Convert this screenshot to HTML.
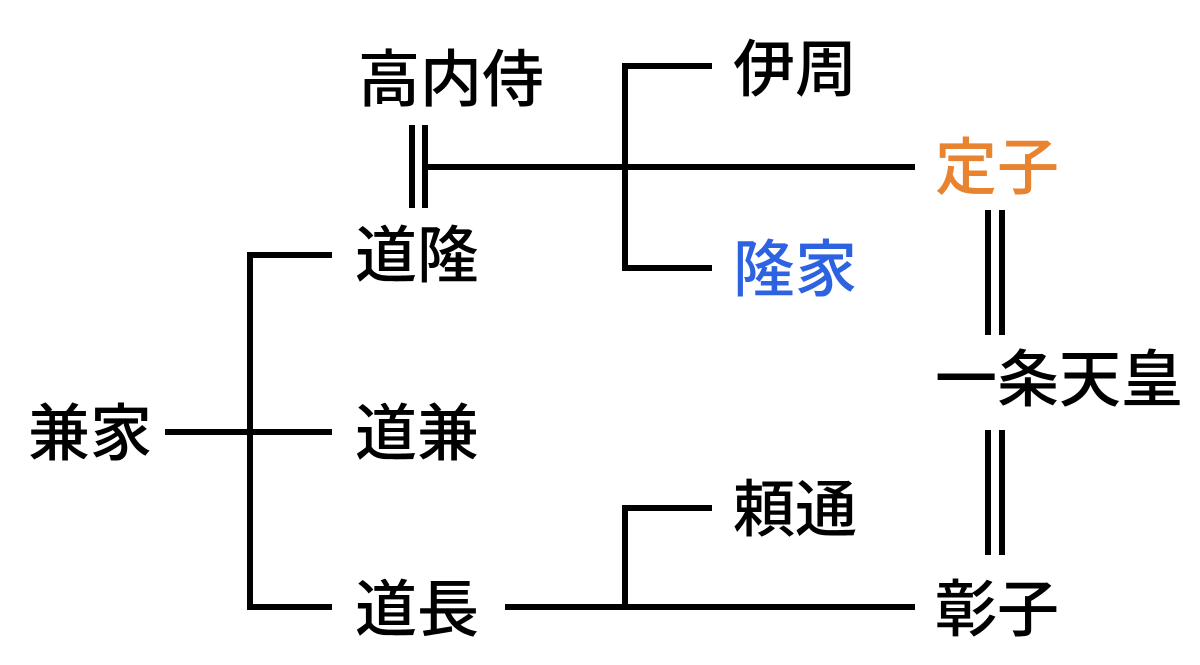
<!DOCTYPE html>
<html><head><meta charset="utf-8"><style>
body{margin:0;width:1200px;height:665px;background:#fff;position:relative;overflow:hidden}
.t{position:absolute;font-family:"Liberation Sans","Noto Sans CJK JP",sans-serif;font-size:62px;line-height:62px;font-weight:500;color:#000;white-space:nowrap}
svg{position:absolute;left:0;top:0}
</style></head><body>
<svg width="1200" height="665" stroke="#000" stroke-width="6" fill="none">
<line x1="412" y1="125" x2="412" y2="208"/>
<line x1="425" y1="125" x2="425" y2="208"/>
<line x1="425" y1="167" x2="915" y2="167"/>
<polyline points="712,66 625,66 625,268 712,268"/>
<line x1="988" y1="210" x2="988" y2="335"/>
<line x1="1002" y1="210" x2="1002" y2="335"/>
<line x1="988" y1="430" x2="988" y2="555"/>
<line x1="1002" y1="430" x2="1002" y2="555"/>
<polyline points="332,255 250,255 250,607 332,607"/>
<line x1="165" y1="432" x2="332" y2="432"/>
<line x1="505" y1="607" x2="915" y2="607"/>
<polyline points="712,508 625,508 625,607"/>
</svg>
<div class="t" style="left:358px;top:50px">高内侍</div>
<div class="t" style="left:733px;top:40px">伊周</div>
<div class="t" style="left:935px;top:138px;color:#e8832f">定子</div>
<div class="t" style="left:733px;top:240px;color:#2d62e0">隆家</div>
<div class="t" style="left:355px;top:226px">道隆</div>
<div class="t" style="left:935px;top:350px">一条天皇</div>
<div class="t" style="left:28px;top:404px">兼家</div>
<div class="t" style="left:355px;top:404px">道兼</div>
<div class="t" style="left:733px;top:480px">頼通</div>
<div class="t" style="left:355px;top:580px">道長</div>
<div class="t" style="left:935px;top:580px">彰子</div>
</body></html>
